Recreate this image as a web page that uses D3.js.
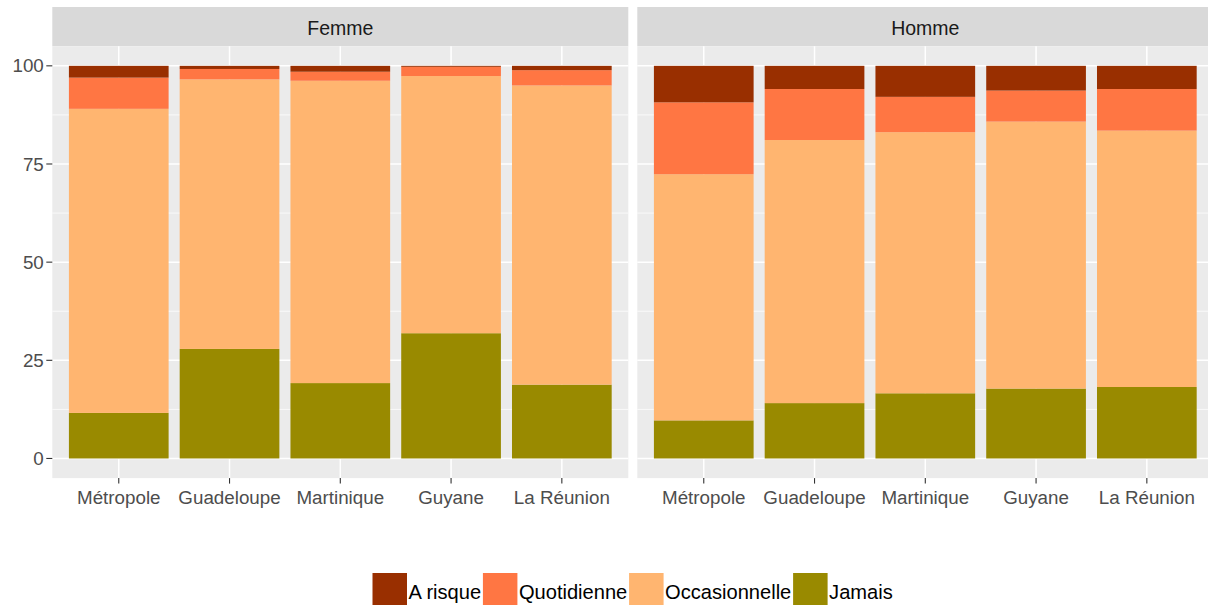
<!DOCTYPE html>
<html><head><meta charset="utf-8">
<script src="https://cdn.jsdelivr.net/npm/d3@7"></script>
<style>html,body{margin:0;padding:0;background:#fff;overflow:hidden}</style>
</head><body>
<svg id="chart" width="1208" height="605"></svg>
<script>
const categories = ["Métropole","Guadeloupe","Martinique","Guyane","La Réunion"];
const facets = ["Femme","Homme"];
const levels = ["Jamais","Occasionnelle","Quotidienne","A risque"]; // bottom to top
const legendOrder = ["A risque","Quotidienne","Occasionnelle","Jamais"];
const yTicks = [0,25,50,75,100];
// values per facet, per category (order: Métropole, Guadeloupe, Martinique, Guyane, La Réunion)
const femmeJamais        = [11.6, 27.9, 19.2, 31.9, 18.8];
const femmeOccasionnelle = [77.45, 68.65, 77.0, 65.5, 76.2];
const femmeQuotidienne   = [7.95, 2.65, 2.3, 2.35, 3.9];
const femmeARisque       = [3.0, 0.8, 1.5, 0.25, 1.1];
const hommeJamais        = [9.7, 14.1, 16.6, 17.8, 18.2];
const hommeOccasionnelle = [62.7, 67.0, 66.5, 68.0, 65.3];
const hommeQuotidienne   = [18.3, 13.0, 9.0, 7.9, 10.6];
const hommeARisque       = [9.3, 5.9, 7.9, 6.3, 5.9];

const colors = {"A risque":"#992F00","Quotidienne":"#FF7643","Occasionnelle":"#FFB570","Jamais":"#998A00"};

const dataByFacet = {
  "Femme": {"Jamais":femmeJamais,"Occasionnelle":femmeOccasionnelle,"Quotidienne":femmeQuotidienne,"A risque":femmeARisque},
  "Homme": {"Jamais":hommeJamais,"Occasionnelle":hommeOccasionnelle,"Quotidienne":hommeQuotidienne,"A risque":hommeARisque}
};

const svg = d3.select("#chart");
const font = "'Liberation Sans', Arial, sans-serif";
const panelTop = 46.2, panelBottom = 478.1;
const stripTop = 7, stripBottom = 46.2;
const panelW = 576, panelLefts = [52.3, 637.3];

const y = d3.scaleLinear().domain([-5,105]).range([panelBottom, panelTop]);

facets.forEach((f, fi) => {
  const left = panelLefts[fi];
  const x = d3.scaleBand().domain(categories).range([left, left+panelW]).paddingInner(0.1).paddingOuter(0.15);
  const g = svg.append("g");
  // strip
  g.append("rect").attr("x", left).attr("y", stripTop).attr("width", panelW).attr("height", stripBottom-stripTop).attr("fill", "#D9D9D9");
  g.append("text").attr("x", left+panelW/2).attr("y", (stripTop+stripBottom)/2 + 1.5).attr("dy","0.35em")
    .attr("text-anchor","middle").attr("font-family",font).attr("font-size",19.5).attr("fill","#1A1A1A").text(f);
  // panel
  g.append("rect").attr("x", left).attr("y", panelTop).attr("width", panelW).attr("height", panelBottom-panelTop).attr("fill", "#EBEBEB");
  // minor grid
  const minor = [12.5,37.5,62.5,87.5];
  g.selectAll(".minor").data(minor).join("line")
    .attr("x1", left).attr("x2", left+panelW).attr("y1", d=>y(d)).attr("y2", d=>y(d))
    .attr("stroke","#fff").attr("stroke-width",0.75);
  g.selectAll(".major").data(yTicks).join("line")
    .attr("x1", left).attr("x2", left+panelW).attr("y1", d=>y(d)).attr("y2", d=>y(d))
    .attr("stroke","#fff").attr("stroke-width",1.5);
  g.selectAll(".vmajor").data(categories).join("line")
    .attr("x1", d=>x(d)+x.bandwidth()/2).attr("x2", d=>x(d)+x.bandwidth()/2)
    .attr("y1", panelTop).attr("y2", panelBottom)
    .attr("stroke","#fff").attr("stroke-width",1.5);
  // bars
  const stackData = categories.map((c, i) => {
    const o = {cat: c};
    levels.forEach(l => o[l] = dataByFacet[f][l][i]);
    return o;
  });
  const series = d3.stack().keys(levels)(stackData);
  series.forEach(s => {
    g.append("g").selectAll("rect").data(s).join("rect")
      .attr("x", d => x(d.data.cat)).attr("width", x.bandwidth())
      .attr("y", d => y(d[1])).attr("height", d => y(d[0]) - y(d[1]))
      .attr("fill", colors[s.key]);
  });
  // x axis ticks and labels
  const xa = g.append("g");
  xa.selectAll("line").data(categories).join("line")
    .attr("x1", d=>x(d)+x.bandwidth()/2).attr("x2", d=>x(d)+x.bandwidth()/2)
    .attr("y1", panelBottom).attr("y2", panelBottom+5.5)
    .attr("stroke","#333333").attr("stroke-width",1.1);
  xa.selectAll("text").data(categories).join("text")
    .attr("x", d=>x(d)+x.bandwidth()/2).attr("y", 503.5)
    .attr("text-anchor","middle").attr("font-family",font).attr("font-size",18.8).attr("fill","#4D4D4D")
    .text(d=>d);
  // y axis only on first facet
  if (fi === 0) {
    const ya = svg.append("g");
    ya.selectAll("line").data(yTicks).join("line")
      .attr("x1", left-6).attr("x2", left).attr("y1", d=>y(d)).attr("y2", d=>y(d))
      .attr("stroke","#333333").attr("stroke-width",1.1);
    ya.selectAll("text").data(yTicks).join("text")
      .attr("x", left-8.5).attr("y", d=>y(d)).attr("dy","0.35em")
      .attr("text-anchor","end").attr("font-family",font).attr("font-size",18.8).attr("fill","#4D4D4D")
      .text(d=>d);
  }
});

// legend
const lg = svg.append("g");
let lx = 372.5;
const keySize = 34.5, keyTop = 573;
legendOrder.forEach(k => {
  lg.append("rect").attr("x", lx).attr("y", keyTop).attr("width", keySize).attr("height", keySize).attr("fill", colors[k]);
  const t = lg.append("text").attr("x", lx+keySize+1.5).attr("y", 599)
    .attr("font-family",font).attr("font-size",20.1).attr("fill","#000").text(k);
  const w = t.node().getComputedTextLength();
  lx = lx + keySize + 1.5 + w + 1.8;
});
</script>
</body></html>
